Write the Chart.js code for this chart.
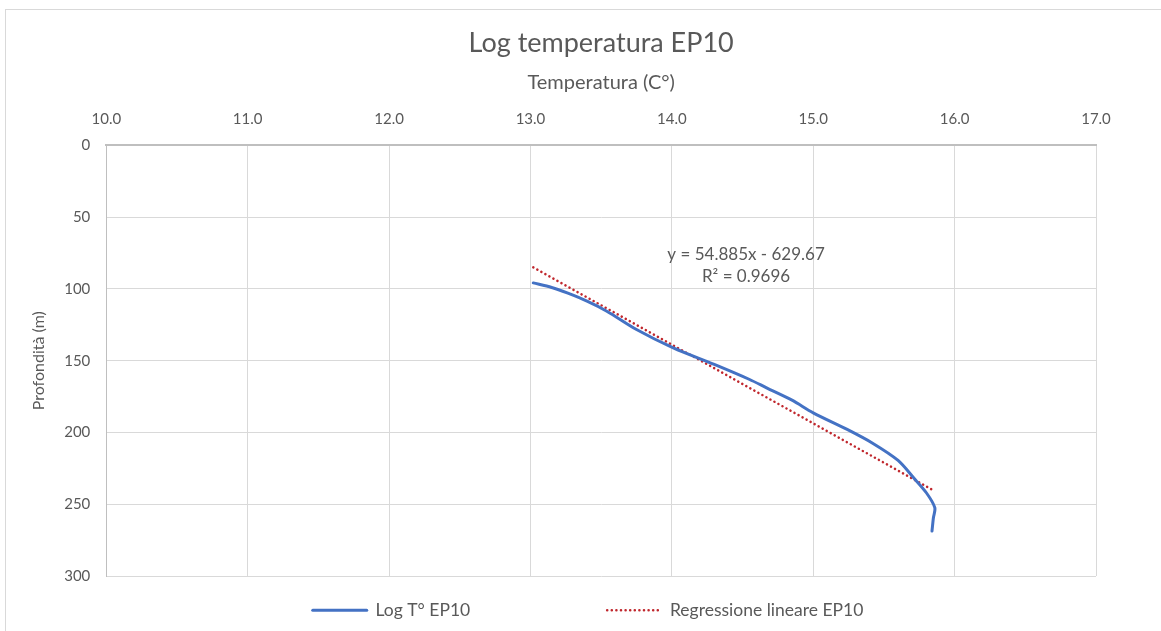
<!DOCTYPE html>
<html>
<head>
<meta charset="utf-8">
<script src="https://cdn.jsdelivr.net/npm/chart.js@4.4.1/dist/chart.umd.min.js"></script>
<style>
html,body{margin:0;padding:0;background:#fff;}
#wrap{width:1161px;height:631px;position:relative;}
</style>
</head>
<body>
<div id="wrap"><canvas id="c" width="1161" height="631"></canvas></div>
<script>
// Data
const logTemperature = [13.02, 13.15, 13.26, 13.40, 13.54, 13.75, 14.01, 14.30, 14.55, 14.67, 14.85, 15.00, 15.24, 15.42, 15.60, 15.71, 15.80, 15.86, 15.85, 15.84];
const logDepth       = [95.8, 99.0, 102.8, 108.5, 115.5, 128.3, 141.1, 152.6, 163.1, 168.9, 177.5, 186.3, 197.9, 207.5, 219.5, 231.6, 242.0, 252.4, 259.4, 268.7];
const regressionTemperature = [13.02, 15.85];
const regressionDepth       = [85.0, 240.3];
const xTicks = [10, 11, 12, 13, 14, 15, 16, 17];
const yTicks = [0, 50, 100, 150, 200, 250, 300];
const equationLines = ["y = 54.885x - 629.67", "R² = 0.9696"];

const FONT = 'Lato, "Open Sans", sans-serif';
const TXT = '#595959';

const toPoints = (xs, ys) => xs.map((x, i) => ({x: x, y: ys[i]}));

const frame = {
  id: 'frame',
  beforeDraw(chart) {
    const ctx = chart.ctx;
    ctx.save();
    ctx.fillStyle = '#fff';
    ctx.fillRect(0, 0, chart.width, chart.height);
    ctx.strokeStyle = '#d9d9d9';
    ctx.lineWidth = 1;
    ctx.strokeRect(5.5, 9.5, 1200, 700);
    ctx.restore();
  }
};

const equation = {
  id: 'equation',
  afterDatasetsDraw(chart) {
    const ctx = chart.ctx;
    const xs = chart.scales.x, ys = chart.scales.y;
    const cx = xs.getPixelForValue(14.525);
    ctx.save();
    ctx.font = '17px ' + FONT;
    ctx.fillStyle = TXT;
    ctx.textAlign = 'center';
    ctx.textBaseline = 'middle';
    ctx.fillText(equationLines[0], cx, ys.getPixelForValue(75.9));
    ctx.fillText(equationLines[1], cx, ys.getPixelForValue(91.2));
    ctx.restore();
  }
};

// legend spacing (gap between the two entries, as in the reference)
const legendGaps = ['\u2003'.repeat(9) + '\u2002', '\u2003'.repeat(2)];

new Chart(document.getElementById('c'), {
  type: 'scatter',
  data: {
    datasets: [
      {
        label: 'Log T° EP10',
        data: toPoints(logTemperature, logDepth),
        showLine: true,
        borderColor: '#4472C4',
        backgroundColor: '#4472C4',
        borderWidth: 3,
        pointRadius: 0,
        tension: 0.3,
        borderCapStyle: 'round'
      },
      {
        label: 'Regressione lineare EP10',
        data: toPoints(regressionTemperature, regressionDepth),
        showLine: true,
        borderColor: '#C0272D',
        backgroundColor: '#C0272D',
        borderWidth: 2.5,
        borderDash: [0.1, 4.5],
        borderCapStyle: 'round',
        pointRadius: 0
      }
    ]
  },
  options: {
    responsive: false,
    animation: false,
    layout: {padding: {left: 29, right: 65, top: 23, bottom: 2}},
    plugins: {
      title: {
        display: true,
        fullSize: false,
        text: 'Log temperatura EP10',
        color: TXT,
        font: {family: FONT, size: 27, weight: 'normal'},
        padding: {top: 4, bottom: 13}
      },
      legend: {
        position: 'bottom',
        fullSize: false,
        title: {display: true, text: '', font: {size: 10, lineHeight: 1.2}, padding: {top: 3.5, bottom: 0}},
        labels: {
          usePointStyle: true,
          pointStyle: 'line',
          pointStyleWidth: 54,
          color: TXT,
          font: {family: FONT, size: 17.5},
          padding: 10,
          generateLabels(chart) {
            const items = Chart.defaults.plugins.legend.labels.generateLabels(chart);
            items.forEach((it, i) => {
              const ds = chart.data.datasets[it.datasetIndex];
              it.lineDash = ds.borderDash || [];
              it.lineCap = ds.borderCapStyle || 'butt';
              it.lineWidth = ds.borderWidth;
              it.strokeStyle = ds.borderColor;
              it.text = ds.label + legendGaps[i];
            });
            return items;
          }
        }
      },
      tooltip: {enabled: false}
    },
    scales: {
      x: {
        type: 'linear',
        position: 'top',
        min: 10, max: 17,
        afterBuildTicks: (axis) => { axis.ticks = xTicks.map(v => ({value: v})); },
        ticks: {
          color: TXT,
          font: {family: FONT, size: 15},
          callback: (v) => Number(v).toFixed(1),
          padding: 17
        },
        grid: {color: '#d9d9d9', lineWidth: 1, drawTicks: false},
        border: {color: '#bfbfbf', width: 2},
        title: {
          display: true,
          text: 'Temperatura (C°)',
          color: TXT,
          font: {family: FONT, size: 20, lineHeight: 1.05},
          padding: {top: 0, bottom: 0}
        }
      },
      y: {
        type: 'linear',
        reverse: true,
        min: 0, max: 300,
        afterBuildTicks: (axis) => { axis.ticks = yTicks.map(v => ({value: v})); },
        ticks: {
          color: TXT,
          font: {family: FONT, size: 15},
          padding: 16
        },
        grid: {color: '#d9d9d9', lineWidth: 1, drawTicks: false},
        border: {color: '#bfbfbf', width: 1},
        title: {
          display: true,
          text: 'Profondità (m)',
          color: TXT,
          font: {family: FONT, size: 16},
          padding: {top: 0, bottom: 0}
        }
      }
    }
  },
  plugins: [frame, equation]
});
</script>
</body>
</html>
